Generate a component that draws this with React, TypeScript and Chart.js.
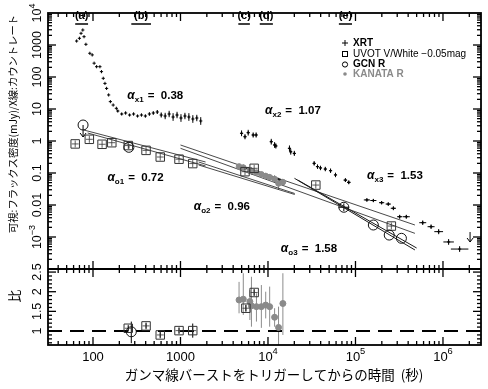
import React, { useEffect, useRef } from 'react';
import { Chart, registerables } from 'chart.js';
Chart.register(...registerables);

const FONT = '"Liberation Sans", Arial, "Noto Sans CJK JP", sans-serif';
const JP = '"Noto Sans CJK JP", "Liberation Sans", sans-serif';

// ---------------- data ----------------
const xrtTime = [
  65, 70, 73, 76.5, 79, 83, 92, 98, 103, 110, 120, 125, 131, 137, 143, 151, 158, 170, 185,
  192, 213, 236, 262, 291, 323, 358, 397, 441, 489, 543, 602, 668, 742, 823, 913, 1013, 1124, 1247, 1384, 1536, 1704,
  4990, 5460, 5940, 6770, 7320, 10900, 11900, 12300, 17600, 18200, 20000, 33700, 36800, 39800, 45200, 51900, 59100, 76700, 83800,
  135000, 160000, 199000, 237000, 271000, 320000, 381000, 587000, 731000, 893000, 1160000, 1550000,
];
const xrtFlux = [
  1330, 1620, 2320, 2940, 1820, 1050, 550, 490, 270, 210, 210, 147, 91, 63, 44, 27.5, 17, 13.3, 10.5,
  8.66, 6.98, 7.5, 6.49, 6.98, 6.04, 6.49, 6.04, 6.98, 7.5, 8.06, 6.49, 6.04, 6.98, 5.62, 6.49, 5.23, 6.04, 5.62, 4.87, 5.23, 4.22,
  1.74, 1.36, 1.82, 1.54, 1.54, 0.95, 0.75, 0.7, 0.59, 0.46, 0.41, 0.2, 0.158, 0.144, 0.133, 0.118, 0.087, 0.06, 0.051,
  0.0144, 0.0138, 0.0118, 0.0107, 0.0079, 0.0043, 0.0043, 0.0028, 0.0021, 0.00147, 0.0007, 0.00042,
];
const xrtErrDex = [
  0, 0, 0, 0, 0, 0, 0, 0, 0, 0, 0, 0, 0, 0, 0, 0, 0, 0, 0,
  0.03, 0.03, 0.04, 0.03, 0.04, 0.03, 0.04, 0.04, 0.05, 0.05, 0.06, 0.08, 0.1, 0.1, 0.12, 0.1, 0.12, 0.1, 0.12, 0.12, 0.1, 0.12,
  0.09, 0.08, 0.09, 0.08, 0.08, 0.09, 0.09, 0.08, 0.09, 0.09, 0.08, 0.07, 0.07, 0.07, 0.07, 0.07, 0.07, 0.06, 0.06,
  0.05, 0.05, 0.05, 0.05, 0.06, 0.06, 0.06, 0.07, 0.07, 0.08, 0.09, 0.09,
];
const xrtBinDex = [
  0, 0, 0, 0, 0, 0, 0, 0, 0, 0, 0, 0, 0, 0, 0, 0, 0, 0, 0,
  0, 0, 0, 0, 0, 0, 0, 0, 0, 0, 0, 0, 0, 0, 0, 0, 0, 0, 0, 0, 0, 0,
  0.015, 0.015, 0.015, 0.015, 0.015, 0.015, 0.015, 0.015, 0.015, 0.015, 0.015, 0.015, 0.015, 0.015, 0.015, 0.015, 0.015, 0.02, 0.02,
  0.035, 0.035, 0.03, 0.03, 0.03, 0.03, 0.04, 0.04, 0.04, 0.05, 0.06, 0.1,
];
const xrtLimitTime = [2.04e6];
const xrtLimitFlux = [1.43e-3];

const uvotTime = [62.6, 90.8, 127, 164, 253, 404, 587, 962, 1380, 5460, 6950, 35200, 257000];
const uvotFlux = [0.81, 1.13, 0.79, 0.885, 0.72, 0.51, 0.316, 0.27, 0.197, 0.11, 0.14, 0.042, 0.0022];

const gcnTime = [77, 257, 73600, 160000, 243000, 335000];
const gcnFlux = [3.16, 0.635, 0.0085, 0.00237, 0.00115, 0.00091];
const gcnErrDex = [0, 0.04, 0.12, 0, 0, 0];
const gcnBinDex = [0, 0, 0.06, 0, 0, 0];
const gcnUpperLimit = [true, false, false, false, false, false];

const kanataTime = [4670, 5220, 6210, 6470, 7380, 8400, 9420, 10450, 11900, 13200, 14800];
const kanataFlux = [0.16, 0.148, 0.123, 0.116, 0.103, 0.091, 0.081, 0.074, 0.065, 0.047, 0.052];
const kanataErrDex = [0.08, 0.1, 0.06, 0.12, 0.06, 0.08, 0.06, 0.1, 0.12, 0.18, 0.1];

const ratioUvotTime = [253, 404, 587, 962, 1380, 5590, 6950];
const ratioUvot = [1.07, 1.13, 0.9, 1.01, 1.01, 1.58, 1.98];
const ratioUvotErr = [0.07, 0.07, 0.07, 0.07, 0.18, 0.08, 0.08];
const ratioGcnTime = [274];
const ratioGcn = [0.98];
const ratioGcnLo = [0.69];
const ratioGcnHi = [1.24];
const ratioKanata = [1.79, 1.81, 1.75, 1.64, 1.62, 1.62, 1.66, 1.62, 1.35, 1.09, 1.7];
const ratioKanataLo = [1.45, 1.41, 1.28, 1.11, 1.24, 1.08, 1.32, 1.11, 1.11, 0.52, 0.9];
const ratioKanataHi = [2.25, 2.47, 2.04, 2.38, 1.96, 2.17, 2.0, 2.13, 1.58, 1.62, 2.47];

const fitO1a = [[78.3, 2.21], [1934, 0.221]];
const fitO1b = [[86.9, 1.78], [1934, 0.166]];
const fitO2a = [[1000, 0.75], [478000, 0.00237]];
const fitO2b = [[1000, 0.591], [478000, 0.0013]];
const fitO2c = [[1612, 0.221], [20220, 0.0229]];
const fitO2d = [[1612, 0.178], [20220, 0.0213]];
const fitO3a = [[20070, 0.0683], [478000, 3.93e-4]];
const fitO3b = [[21870, 0.0604], [500000, 4.53e-4]];
const fitKanata = [[4820, 0.166], [14790, 0.0562]];

const intervalLabels = ['(a)', '(b)', '(c)', '(d)', '(e)'];
const intervalStart = [62.6, 274, 4580, 8050, 64600];
const intervalEnd = [87.8, 460, 6210, 11380, 91300];

const slopeNames = ['x1', 'o1', 'x2', 'x3', 'o2', 'o3'];
const slopeValues = ['0.38', '0.72', '1.07', '1.53', '0.96', '1.58'];
const slopeTime = [247, 146, 9250, 135500, 1416, 14030];
const slopeFlux = [27.4, 0.075, 9.3, 0.0866, 0.0093, 4.5e-4];

const xTickValues = [100, 1000, 1e4, 1e5, 1e6];
const xTickLabels = ['100', '1000', '10^4', '10^5', '10^6'];
const yTickValues = [1e4, 1000, 100, 10, 1, 0.1, 0.01, 1e-3];
const yTickLabels = ['10^4', '1000', '100', '10', '1', '0.1', '0.01', '10^−3'];
const rTickValues = [2.5, 2, 1.5, 1];
const rTickLabels = ['2.5', '2', '1.5', '1'];

const legendLabels = ['XRT', 'UVOT V/White −0.05mag', 'GCN R', 'KANATA R'];

// ---------------- helpers ----------------
function seg(ctx: any, x1: number, y1: number, x2: number, y2: number) {
  ctx.beginPath();
  ctx.moveTo(x1, y1);
  ctx.lineTo(x2, y2);
  ctx.stroke();
}
function arrowDown(ctx: any, x: number, y1: number, y2: number) {
  seg(ctx, x, y1, x, y2);
  ctx.beginPath();
  ctx.moveTo(x - 3, y2 - 4);
  ctx.lineTo(x, y2);
  ctx.lineTo(x + 3, y2 - 4);
  ctx.stroke();
}
function drawLabel(ctx: any, text: string, x: number, y: number, size: number) {
  ctx.textBaseline = 'middle';
  ctx.textAlign = 'left';
  if (text.indexOf('^') >= 0) {
    const [b, e] = text.split('^');
    ctx.font = `${size}px ${FONT}`;
    const wb = ctx.measureText(b).width;
    ctx.font = `${size * 0.72}px ${FONT}`;
    const we = ctx.measureText(e).width;
    const x0 = x - (wb + we) / 2;
    ctx.font = `${size}px ${FONT}`;
    ctx.fillText(b, x0, y);
    ctx.font = `${size * 0.72}px ${FONT}`;
    ctx.fillText(e, x0 + wb, y - size * 0.42);
  } else {
    ctx.font = `${size}px ${FONT}`;
    const w = ctx.measureText(text).width;
    ctx.fillText(text, x - w / 2, y);
  }
}

const decor = {
  id: 'decor',
  beforeDatasetsDraw(chart: any) {
    const ctx = chart.ctx;
    const X = chart.scales.x, Y = chart.scales.y, R = chart.scales.y2;
    const xp = (v: number) => X.getPixelForValue(v);
    const yp = (v: number) => Y.getPixelForValue(v);
    const rp = (v: number) => R.getPixelForValue(v);
    ctx.save();
    ctx.lineWidth = 1;
    ctx.strokeStyle = '#8c8c8c';
    kanataTime.forEach((t, i) => {
      const f = kanataFlux[i], e = Math.pow(10, kanataErrDex[i]);
      seg(ctx, xp(t), yp(f * e), xp(t), yp(f / e));
    });
    ctx.save();
    ctx.beginPath();
    ctx.rect(X.left, R.top, X.right - X.left, R.bottom - R.top);
    ctx.clip();
    kanataTime.forEach((t, i) => seg(ctx, xp(t), rp(ratioKanataHi[i]), xp(t), rp(ratioKanataLo[i])));
    ctx.restore();

    ctx.strokeStyle = '#000';
    xrtTime.forEach((t, i) => {
      const f = xrtFlux[i];
      const e = xrtErrDex[i], b = xrtBinDex[i];
      if (e > 0) seg(ctx, xp(t), yp(f * Math.pow(10, e)), xp(t), yp(f / Math.pow(10, e)));
      if (b > 0) seg(ctx, xp(t / Math.pow(10, b)), yp(f), xp(t * Math.pow(10, b)), yp(f));
    });
    gcnTime.forEach((t, i) => {
      const f = gcnFlux[i];
      if (gcnErrDex[i] > 0) seg(ctx, xp(t), yp(f * Math.pow(10, gcnErrDex[i])), xp(t), yp(f / Math.pow(10, gcnErrDex[i])));
      if (gcnBinDex[i] > 0) seg(ctx, xp(t / Math.pow(10, gcnBinDex[i])), yp(f), xp(t * Math.pow(10, gcnBinDex[i])), yp(f));
    });
    ratioUvotTime.forEach((t, i) => seg(ctx, xp(t), rp(ratioUvot[i] + ratioUvotErr[i]), xp(t), rp(ratioUvot[i] - ratioUvotErr[i])));
    ratioGcnTime.forEach((t, i) => seg(ctx, xp(t), rp(ratioGcnHi[i]), xp(t), rp(ratioGcnLo[i])));
    ctx.restore();
  },
  afterDraw(chart: any) {
    const ctx = chart.ctx;
    const X = chart.scales.x, Y = chart.scales.y, R = chart.scales.y2;
    const xp = (v: number) => X.getPixelForValue(v);
    const yp = (v: number) => Y.getPixelForValue(v);
    const rp = (v: number) => R.getPixelForValue(v);
    const left = X.left, right = X.right, top = Y.top, mid = Y.bottom, bot = R.bottom;
    ctx.save();
    ctx.strokeStyle = '#000';
    ctx.fillStyle = '#000';

    // upper-limit arrows
    ctx.lineWidth = 1;
    gcnTime.forEach((t, i) => {
      if (gcnUpperLimit[i]) arrowDown(ctx, xp(t), yp(gcnFlux[i]), yp(gcnFlux[i]) + 12);
    });
    xrtLimitTime.forEach((t, i) => arrowDown(ctx, xp(t), yp(xrtLimitFlux[i]), yp(xrtLimitFlux[i]) + 10));

    // frame
    ctx.lineWidth = 1.8;
    ctx.strokeRect(left, top, right - left, bot - top);
    seg(ctx, left, mid, right, mid);

    // x ticks
    ctx.lineWidth = 1.3;
    for (let d = 1; d <= 6; d++) {
      for (let m = 1; m <= 9; m++) {
        const v = m * Math.pow(10, d);
        if (v < X.min || v > X.max) continue;
        const px = xp(v);
        const L = m === 1 ? 8 : 4;
        seg(ctx, px, top, px, top + L);
        seg(ctx, px, mid - L, px, mid + L);
        seg(ctx, px, bot, px, bot - L);
      }
    }
    // y ticks (log)
    for (let d = -4; d <= 3; d++) {
      for (let m = 1; m <= 9; m++) {
        const v = m * Math.pow(10, d);
        if (v < Y.min || v > Y.max) continue;
        const py = yp(v);
        const L = m === 1 ? 8 : 4;
        seg(ctx, left, py, left + L, py);
        seg(ctx, right, py, right - L, py);
      }
    }
    // ratio ticks
    for (let k = 7; k <= 25; k++) {
      const py = rp(k / 10);
      const L = k % 5 === 0 ? 8 : 4;
      seg(ctx, left, py, left + L, py);
      seg(ctx, right, py, right - L, py);
    }

    // tick labels
    xTickValues.forEach((v, i) => drawLabel(ctx, xTickLabels[i], xp(v), 357, 13));
    const rot = (x: number, y: number, fn: () => void) => {
      ctx.save();
      ctx.translate(x, y);
      ctx.rotate(-Math.PI / 2);
      fn();
      ctx.restore();
    };
    yTickValues.forEach((v, i) => rot(38, yp(v), () => drawLabel(ctx, yTickLabels[i], 0, 0, 12.5)));
    rTickValues.forEach((v, i) => rot(38, rp(v), () => drawLabel(ctx, rTickLabels[i], 0, 0, 12.5)));

    // axis titles
    ctx.textAlign = 'center';
    ctx.textBaseline = 'middle';
    ctx.font = `13.5px ${JP}`;
    ctx.fillText('ガンマ線バーストをトリガーしてからの時間  (秒)', 274, 375);
    rot(13, 124, () => {
      ctx.font = `10.3px ${JP}`;
      ctx.textAlign = 'center';
      ctx.textBaseline = 'middle';
      ctx.fillText('可視:フラックス密度(mJy)/X線:カウントレート', 0, 0);
    });
    rot(14, 296, () => {
      ctx.font = `13px ${JP}`;
      ctx.textAlign = 'center';
      ctx.textBaseline = 'middle';
      ctx.fillText('比', 0, 0);
    });

    // interval markers
    ctx.lineWidth = 1.5;
    intervalLabels.forEach((lab, i) => {
      const x1 = xp(intervalStart[i]), x2 = xp(intervalEnd[i]);
      ctx.font = `bold 11px ${FONT}`;
      ctx.textAlign = 'center';
      ctx.textBaseline = 'middle';
      ctx.fillText(lab, (x1 + x2) / 2, 16);
      seg(ctx, x1, 24, x2, 24);
    });

    // slope labels
    slopeNames.forEach((s, i) => {
      const x = xp(slopeTime[i]), y = yp(slopeFlux[i]);
      ctx.textAlign = 'left';
      ctx.textBaseline = 'alphabetic';
      ctx.font = `italic bold 12px ${FONT}`;
      ctx.fillText('α', x, y + 4);
      const w = ctx.measureText('α').width;
      ctx.font = `bold 8px ${FONT}`;
      ctx.fillText(s, x + w, y + 7);
      const ws = ctx.measureText(s).width;
      ctx.font = `bold 11.5px ${FONT}`;
      ctx.fillText('=  ' + slopeValues[i], x + w + ws + 4, y + 4);
    });

    // legend
    const lx = 345;
    const ly = [43, 54, 64.5, 74];
    ctx.lineWidth = 1;
    seg(ctx, lx - 3, ly[0], lx + 3, ly[0]);
    seg(ctx, lx, ly[0] - 3, lx, ly[0] + 3);
    ctx.strokeRect(lx - 2.5, ly[1] - 2.5, 5, 5);
    ctx.beginPath();
    ctx.arc(lx, ly[2], 2.6, 0, Math.PI * 2);
    ctx.stroke();
    ctx.fillStyle = '#8a8a8a';
    ctx.beginPath();
    ctx.arc(lx, ly[3], 1.8, 0, Math.PI * 2);
    ctx.fill();
    ctx.textAlign = 'left';
    ctx.textBaseline = 'middle';
    legendLabels.forEach((lab, i) => {
      ctx.font = i === 1 ? `10px ${FONT}` : `bold 10px ${FONT}`;
      ctx.fillStyle = i === 3 ? '#8a8a8a' : '#000';
      ctx.fillText(lab, 353, ly[i]);
    });
    ctx.restore();
  },
};

export default function App() {
  const ref = useRef<HTMLCanvasElement>(null);
  useEffect(() => {
    document.body.style.margin = '0';
    const canvas = ref.current as HTMLCanvasElement;
    const pts = (xs: number[], ys: number[]) => xs.map((x, i) => ({ x, y: ys[i] }));
    const seg2 = (p: number[][]) => p.map(([x, y]) => ({ x, y }));
    const fit = (p: number[][], w = 0.8) => ({
      data: seg2(p), showLine: true, pointRadius: 0, borderColor: '#1a1a1a', borderWidth: w, yAxisID: 'y', fill: false,
    });
    const sym = (data: any, style: string, r: number, color: string, fillc: string, axis: string, bw = 1) => ({
      data, yAxisID: axis, pointStyle: style, pointRadius: r, pointBorderColor: color, pointBackgroundColor: fillc,
      pointBorderWidth: bw, borderColor: color, backgroundColor: fillc, showLine: false,
    });
    const none = 'rgba(0,0,0,0)';
    const chart = new Chart(canvas, {
      type: 'scatter',
      data: {
        datasets: [
          sym(pts(gcnTime, gcnFlux), 'circle', 5, '#111', none, 'y', 1),
          sym(pts(uvotTime, uvotFlux), 'rect', 6, '#333', none, 'y', 1),
          sym(pts(uvotTime, uvotFlux), 'cross', 3.5, '#333', none, 'y', 0.8),
          sym(pts(xrtTime, xrtFlux), 'cross', 1.6, '#000', none, 'y', 1),
          sym(pts(kanataTime, kanataFlux), 'circle', 2.8, '#8a8a8a', '#8a8a8a', 'y', 1),
          sym(pts(ratioGcnTime, ratioGcn), 'circle', 5, '#111', none, 'y2', 1),
          sym(pts(ratioUvotTime, ratioUvot), 'rect', 6, '#333', none, 'y2', 1),
          sym(pts(ratioUvotTime, ratioUvot), 'cross', 3.5, '#333', none, 'y2', 0.8),
          sym(pts(kanataTime, ratioKanata), 'circle', 3, '#8a8a8a', '#8a8a8a', 'y2', 1),
          {
            data: [{ x: 30.6, y: 1 }, { x: 2.72e6, y: 1 }], yAxisID: 'y2', showLine: true, pointRadius: 0,
            borderColor: '#000', borderWidth: 2.2, borderDash: [14, 8],
          },
          fit(fitKanata, 2),
          fit(fitO1a), fit(fitO1b), fit(fitO2a), fit(fitO2b), fit(fitO2c), fit(fitO2d), fit(fitO3a, 1), fit(fitO3b, 1),
        ] as any,
      },
      options: {
        responsive: false,
        animation: false,
        events: [],
        layout: { padding: { left: 48, right: 3, top: 13, bottom: 44 } },
        plugins: { legend: { display: false }, tooltip: { enabled: false } },
        scales: {
          x: { type: 'logarithmic', min: 30.6, max: 2.72e6, display: false, bounds: 'data' },
          y2: { type: 'linear', min: 0.644, max: 2.578, display: false, stack: 'v', stackWeight: 76, position: 'left', bounds: 'data' },
          y: { type: 'logarithmic', min: 1e-4, max: 1e4, display: false, stack: 'v', stackWeight: 256, position: 'left', bounds: 'data' },
        } as any,
      },
      plugins: [decor],
    });
    return () => chart.destroy();
  }, []);
  return <canvas ref={ref} width={488} height={389} style={{ display: 'block' }} />;
}
